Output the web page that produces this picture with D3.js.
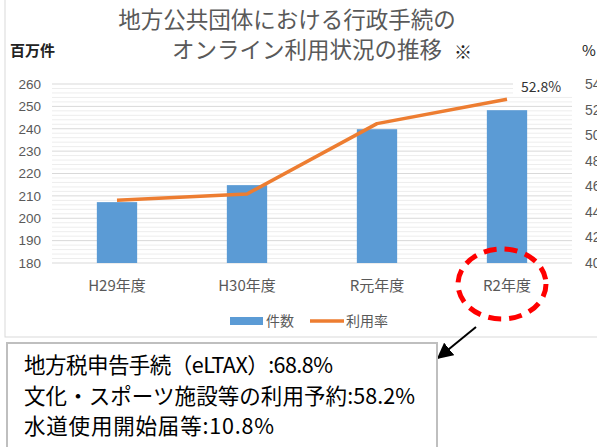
<!DOCTYPE html>
<html>
<head>
<meta charset="utf-8">
<script src="https://cdn.jsdelivr.net/npm/d3@7"></script>
<style>
  body { margin: 0; background: #fff; }
  svg { display: block; font-family: "Noto Sans CJK JP", "Noto Sans", sans-serif; }
</style>
</head>
<body>
<div id="chart"></div>
<script>
// values
var categories = ["H29年度", "H30年度", "R元年度", "R2年度"];
var counts = [207.2, 214.8, 239.8, 248.3];     // 百万件
var rates = [44.9, 45.4, 50.9, 52.8];          // %
var titleLines = ["地方公共団体における行政手続の", "オンライン利用状況の推移"];
var noteLines = [
    "地方税申告手続（eLTAX）:68.8%",
    "文化・スポーツ施設等の利用予約:58.2%",
    "水道使用開始届等:10.8%"
];
var legendLabels = ["件数", "利用率"];

var W = 597, H = 447;
var plot = { left: 52, right: 572, top: 84, bottom: 263 };

var svg = d3.select("#chart").append("svg")
    .attr("width", W)
    .attr("height", H);

// chart frame
svg.append("rect")
    .attr("x", 5).attr("y", -2)
    .attr("width", W).attr("height", 339)
    .attr("fill", "none")
    .attr("stroke", "#d9d9d9");

var x = d3.scaleBand()
    .domain(categories)
    .range([plot.left, plot.right])
    .paddingInner(0.69)
    .paddingOuter(0.345);

var y = d3.scaleLinear().domain([180, 260]).range([plot.bottom, plot.top]);
var y2 = d3.scaleLinear().domain([40, 54]).range([plot.bottom, plot.top]);

// minor gridlines
svg.append("g").selectAll("line")
    .data(d3.range(180, 261, 2).filter(function(v){ return v % 10 !== 0; }))
    .enter().append("line")
    .attr("x1", plot.left).attr("x2", plot.right)
    .attr("y1", function(d){ return y(d); })
    .attr("y2", function(d){ return y(d); })
    .attr("stroke", "#ededed");

// major gridlines
svg.append("g").selectAll("line")
    .data(y.ticks(8))
    .enter().append("line")
    .attr("x1", plot.left).attr("x2", plot.right)
    .attr("y1", function(d){ return y(d); })
    .attr("y2", function(d){ return y(d); })
    .attr("stroke", "#d9d9d9");

// left axis
var yAxis = d3.axisLeft(y).ticks(8).tickSize(0).tickPadding(0);
svg.append("g")
    .attr("transform", "translate(41,0)")
    .call(yAxis)
    .call(function(g){ g.select(".domain").remove(); })
    .selectAll("text")
    .attr("fill", "#595959")
    .style("font-size", "13.5px");

// right axis (cut off by the picture edge, as in the original)
var y2Axis = d3.axisRight(y2).ticks(7).tickSize(0).tickPadding(0);
svg.append("g")
    .attr("transform", "translate(585,0)")
    .call(y2Axis)
    .call(function(g){ g.select(".domain").remove(); })
    .selectAll("text")
    .attr("fill", "#595959")
    .style("font-size", "14px");

// bars
svg.append("g").selectAll("rect")
    .data(counts)
    .enter().append("rect")
    .attr("x", function(d, i){ return x(categories[i]); })
    .attr("y", function(d){ return y(d); })
    .attr("width", x.bandwidth())
    .attr("height", function(d){ return plot.bottom - y(d); })
    .attr("fill", "#5b9bd5");

// rate line
var line = d3.line()
    .x(function(d, i){ return x(categories[i]) + x.bandwidth() / 2; })
    .y(function(d){ return y2(d); });

svg.append("path")
    .datum(rates)
    .attr("d", line)
    .attr("fill", "none")
    .attr("stroke", "#ed7d31")
    .attr("stroke-width", 3.5)
    .attr("stroke-linejoin", "round");

// data label on last point
var last = rates.length - 1;
var lx = x(categories[last]) + x.bandwidth() / 2 + 8;
var ly = y2(rates[last]) - 12;
svg.append("rect")
    .attr("x", lx - 2).attr("y", ly - 11)
    .attr("width", 66).attr("height", 19)
    .attr("fill", "#fff");
svg.append("text")
    .attr("x", lx + 6).attr("y", ly + 5)
    .attr("fill", "#333")
    .style("font-size", "14px")
    .text(rates[last].toFixed(1) + "%");

// x labels
svg.append("g").selectAll("text")
    .data(categories)
    .enter().append("text")
    .attr("x", function(d){ return x(d) + x.bandwidth() / 2; })
    .attr("y", 291)
    .attr("text-anchor", "middle")
    .attr("fill", "#595959")
    .style("font-size", "15px")
    .text(function(d){ return d; });

// title
svg.append("g").selectAll("text")
    .data(titleLines)
    .enter().append("text")
    .attr("x", function(d, i){ return i === 0 ? 287 : 307; })
    .attr("y", function(d, i){ return 28 + i * 30; })
    .attr("text-anchor", "middle")
    .attr("fill", "#595959")
    .style("font-size", "22.5px")
    .text(function(d){ return d; });
svg.append("text")
    .attr("x", 454).attr("y", 59)
    .attr("fill", "#222")
    .style("font-size", "18px")
    .style("font-weight", "bold")
    .text("※");

// axis units
svg.append("text")
    .attr("x", 10).attr("y", 56)
    .attr("fill", "#222")
    .style("font-size", "15px")
    .style("font-weight", "bold")
    .text("百万件");
svg.append("text")
    .attr("x", 582).attr("y", 56)
    .attr("fill", "#222")
    .style("font-size", "15px")
    .text("%");

// legend
var legend = svg.append("g").attr("transform", "translate(230,321)");
legend.append("rect")
    .attr("x", 0).attr("y", -4)
    .attr("width", 33).attr("height", 8)
    .attr("fill", "#5b9bd5");
legend.append("text")
    .attr("x", 36).attr("y", 5)
    .attr("fill", "#595959")
    .style("font-size", "14px")
    .text(legendLabels[0]);
legend.append("line")
    .attr("x1", 80).attr("x2", 114)
    .attr("y1", 0).attr("y2", 0)
    .attr("stroke", "#ed7d31")
    .attr("stroke-width", 3.5);
legend.append("text")
    .attr("x", 116).attr("y", 5)
    .attr("fill", "#595959")
    .style("font-size", "14px")
    .text(legendLabels[1]);

// red dashed ellipse around R2
svg.append("ellipse")
    .attr("cx", x(categories[last]) + x.bandwidth() / 2 - 5)
    .attr("cy", 284)
    .attr("rx", 44).attr("ry", 35)
    .attr("fill", "none")
    .attr("stroke", "#ff0000")
    .attr("stroke-width", 5)
    .attr("stroke-dasharray", "13 8");

// arrow
svg.append("defs").append("marker")
    .attr("id", "arrow")
    .attr("viewBox", "0 0 10 10")
    .attr("refX", 9).attr("refY", 5)
    .attr("markerWidth", 8).attr("markerHeight", 8)
    .attr("orient", "auto")
    .append("path")
    .attr("d", "M0,0L10,5L0,10Z")
    .attr("fill", "#000");
svg.append("line")
    .attr("x1", 476).attr("y1", 327)
    .attr("x2", 438).attr("y2", 358)
    .attr("stroke", "#000")
    .attr("stroke-width", 2)
    .attr("marker-end", "url(#arrow)");

// note box
svg.append("rect")
    .attr("x", 7).attr("y", 343)
    .attr("width", 430).attr("height", 120)
    .attr("fill", "#fff")
    .attr("stroke", "#bfbfbf")
    .attr("stroke-width", 2);
var noteWidths = [309, 391, 250];
svg.append("g").selectAll("text")
    .data(noteLines)
    .enter().append("text")
    .attr("x", 24)
    .attr("y", function(d, i){ return 373 + i * 30.5; })
    .attr("fill", "#000")
    .attr("textLength", function(d, i){ return noteWidths[i]; })
    .attr("lengthAdjust", "spacing")
    .style("font-size", "21.5px")
    .text(function(d){ return d; });
</script>
</body>
</html>
